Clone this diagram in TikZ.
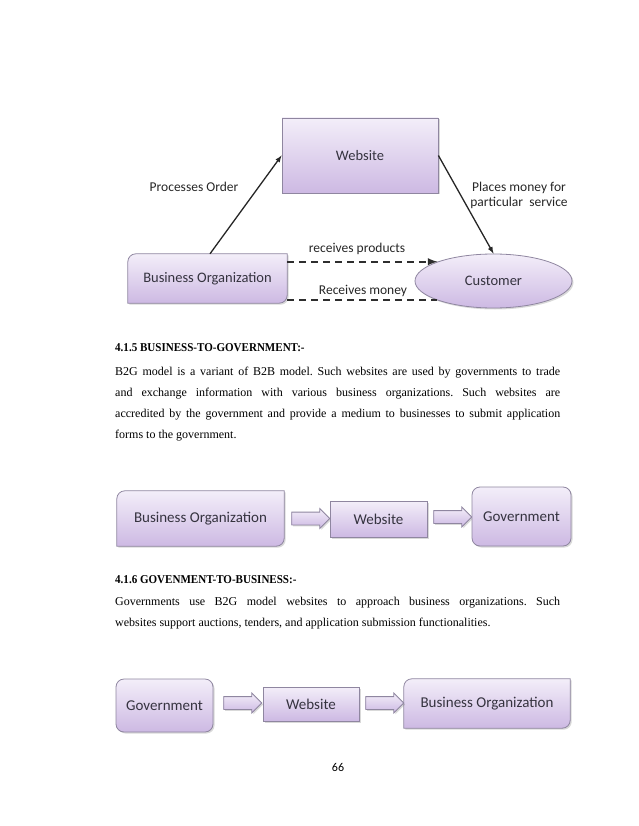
\documentclass[tikz,border=0pt]{standalone}
\usepackage{fontspec}
\setmainfont{Liberation Serif}
\newfontfamily\cfont{Carlito}
\newfontfamily\hfont[FakeStretch=0.92]{Liberation Serif}
\usetikzlibrary{arrows, shapes, shadows, backgrounds}
\frenchspacing

\definecolor{boxtop}{HTML}{F3EEF9}
\definecolor{boxbot}{HTML}{CDB9E3}
\definecolor{boxline}{HTML}{8F86A0}
\definecolor{boxtext}{HTML}{35333F}

\begin{document}
\begin{tikzpicture}[x=1pt, y=-1pt,
  box/.style={top color=boxtop, bottom color=boxbot, draw=boxline, line width=0.8pt,
    drop shadow={shadow xshift=1.5pt, shadow yshift=-1.5pt, opacity=0.3}},
  rbox/.style={box, rounded corners=8pt},
  txt/.style={font=\cfont\fontsize{14.5}{17}\selectfont, text=boxtext},
  txt2/.style={font=\cfont\fontsize{15}{18}\selectfont, text=boxtext},
  lbl/.style={font=\cfont\fontsize{13.5}{15}\selectfont, text=black!85},
  barrow/.style={box, single arrow, minimum height=38pt, inner xsep=0pt, inner ysep=6pt,
    single arrow head extend=3.5pt},
  line/.style={line width=1.3pt, black!85},
  dline/.style={line width=2.3pt, black!82, dash pattern=on 7pt off 5pt},
  head/.style={font=\hfont\bfseries\fontsize{12}{14}\selectfont, inner sep=0pt},
  para/.style={font=\fontsize{12}{21}\selectfont, text width=445pt, align=justify, inner sep=0pt}]

\useasboundingbox (0,0) rectangle (638,826);

\node[box, minimum width=156pt, minimum height=75pt, txt] (W1) at (360,155.5) {Website};
\node[txt, minimum width=159pt, minimum height=49pt] (B1) at (207.5,278.5) {Business Organization};
\node[box, ellipse, minimum width=157pt, minimum height=54pt, txt] (C1) at (493.5,281) {Customer};

\draw[line, -latex] ([xshift=2.5pt]B1.north) -- (W1.west);
\draw[line, -latex] (W1.east) -- (C1.north);
\draw[dline, -latex] (B1.east |- C1.161) -- (C1.161);
\draw[dline] (B1.east |- C1.199) -- (C1.199);

\node[lbl] (L1) at (194,187) {Processes Order};
\node[lbl, align=center] (L2) at (519,195) {Places money for\\particular\ \ service};
\node[lbl] (L3) at (357,249) {receives products};
\node[lbl] (L4) at (363,291) {Receives money};

\node[head, anchor=base west] (H1) at (115,351) {4.1.5 BUSINESS-TO-GOVERNMENT:-};
\node[para, anchor=base west] (P1) at (115,375) {B2G model is a variant of B2B model. Such websites are used by governments to trade\linebreak and exchange information with various business organizations. Such websites are\linebreak accredited by the government and provide a medium to businesses to submit application\linebreak forms to the government.};

\node[txt2, minimum width=167pt, minimum height=55pt] (B2) at (200.5,518.5) {Business Organization};
\node[barrow] (A21) at (307.5,518.5) {};
\node[box, txt2, minimum width=97pt, minimum height=36pt] (W2) at (378.5,519) {Website};
\node[barrow] (A22) at (449.5,517) {};
\node[rbox, txt2, minimum width=99pt, minimum height=59pt] (G2) at (521.5,516.5) {Government};

\node[head, anchor=base west] (H2) at (115,583) {4.1.6 GOVENMENT-TO-BUSINESS:-};
\node[para, anchor=base west] (P2) at (115,605) {Governments use B2G model websites to approach business organizations. Such\linebreak websites support auctions, tenders, and application submission functionalities.};

\node[rbox, txt2, minimum width=97pt, minimum height=53pt] (G3) at (164.5,705.5) {Government};
\node[barrow] (A31) at (239.5,703) {};
\node[box, txt2, minimum width=96pt, minimum height=34pt] (W3) at (311,704) {Website};
\node[barrow] (A32) at (381.5,703) {};
\node[txt2, minimum width=166pt, minimum height=49pt] (B3) at (487,703.5) {Business Organization};

\node[font=\cfont\fontsize{12}{14}\selectfont, anchor=base] (N) at (338,771) {66};

\begin{scope}[on background layer]
\foreach \n in {B1,B2,B3}
  \path[box] (\n.south west) [rounded corners=8pt] -- (\n.north west) [sharp corners] -- (\n.north east) [rounded corners=8pt] -- (\n.south east) [sharp corners] -- cycle;
\end{scope}
\end{tikzpicture}
\end{document}
